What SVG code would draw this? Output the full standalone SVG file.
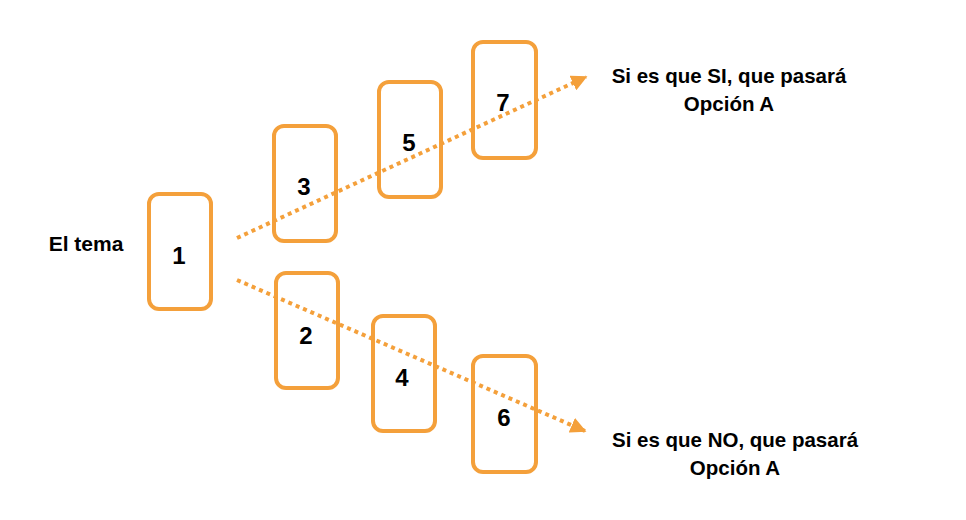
<svg xmlns="http://www.w3.org/2000/svg" width="966" height="520" viewBox="0 0 966 520">
<style>
.box{fill:#fff;stroke:#F4A03B;stroke-width:4}
.num{font-family:"Liberation Sans",Arial,sans-serif;font-weight:bold;font-size:24px;fill:#000;text-anchor:middle}
.lbl{font-family:"Liberation Sans",Arial,sans-serif;font-weight:bold;font-size:20.5px;fill:#000;text-anchor:middle}
.dot{fill:none;stroke:#F4A03B;stroke-width:4;stroke-dasharray:4 4}
</style>
<defs>
<marker id="arr" viewBox="0 0 10 10" refX="9" refY="5" markerWidth="4" markerHeight="4" orient="auto" markerUnits="strokeWidth">
<path d="M0,0 L10,5 L0,10 z" fill="#F4A03B"/>
</marker>
</defs>
<rect width="966" height="520" fill="#fff"/>
<g id="label-tema"><text class="lbl" x="86" y="251" style="font-size:21px">El tema</text></g>
<g id="node-1"><rect class="box" x="149" y="194" width="62" height="115" rx="10"/><text class="num" x="179" y="264">1</text></g>
<g id="node-3"><rect class="box" x="274" y="126" width="62" height="115" rx="10"/><text class="num" x="304" y="195">3</text></g>
<g id="node-5"><rect class="box" x="379" y="82" width="62" height="115" rx="10"/><text class="num" x="409" y="151">5</text></g>
<g id="node-7"><rect class="box" x="473" y="42" width="63" height="116" rx="10"/><text class="num" x="503" y="111">7</text></g>
<g id="node-2"><rect class="box" x="276" y="273" width="62" height="115" rx="10"/><text class="num" x="306" y="344">2</text></g>
<g id="node-4"><rect class="box" x="373" y="316" width="62" height="115" rx="10"/><text class="num" x="402" y="386">4</text></g>
<g id="node-6"><rect class="box" x="473" y="356" width="63" height="116" rx="10"/><text class="num" x="504" y="426">6</text></g>
<g id="connectors">
<line class="dot" x1="237" y1="238" x2="586" y2="77" marker-end="url(#arr)"/>
<line class="dot" x1="237" y1="280" x2="585" y2="431" marker-end="url(#arr)"/>
</g>
<g id="label-si"><text class="lbl" x="729" y="83">Si es que SI, que pasará</text><text class="lbl" x="729" y="111">Opción A</text></g>
<g id="label-no"><text class="lbl" x="735" y="447">Si es que NO, que pasará</text><text class="lbl" x="735" y="475">Opción A</text></g>
</svg>
